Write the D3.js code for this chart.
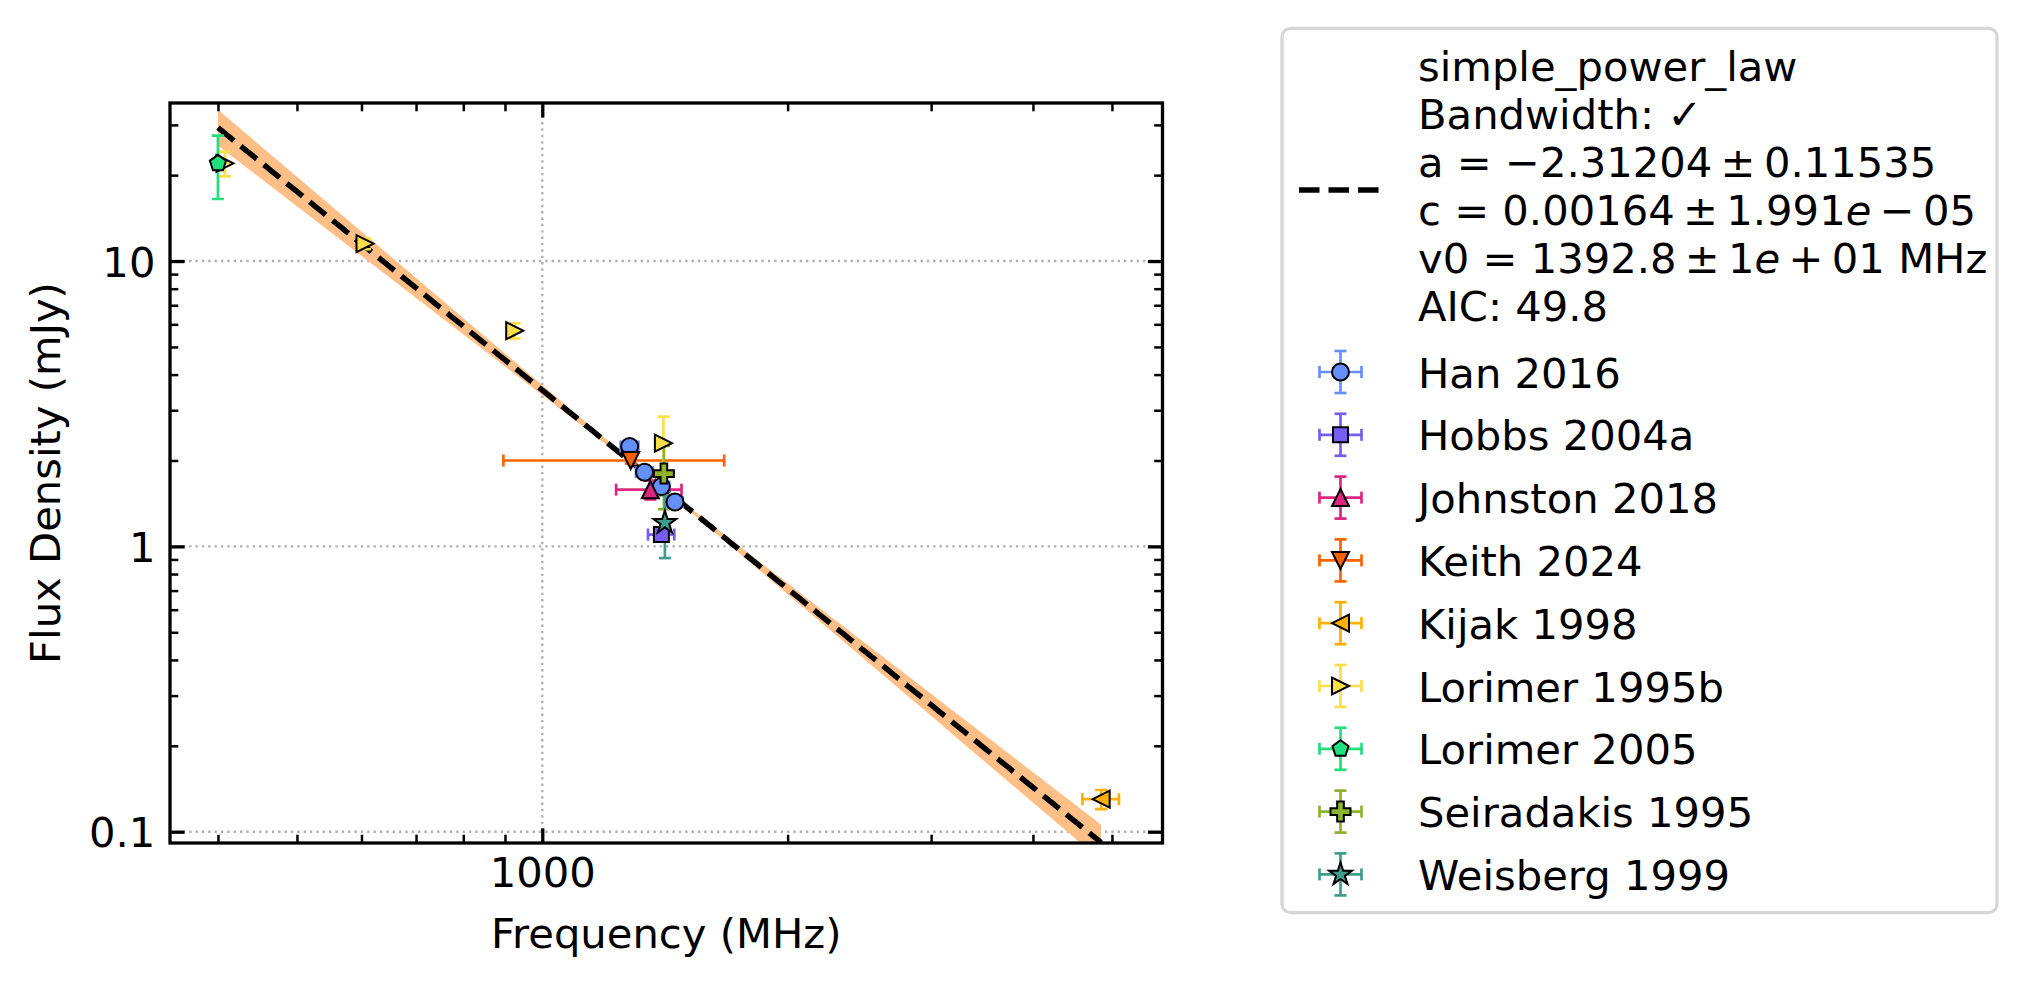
<!DOCTYPE html>
<html lang="en">
  <head>
    <meta charset="UTF-8" />
    <title>Flux density spectrum</title>
    <script src="https://cdn.jsdelivr.net/npm/d3@7"></script>
    <style>
      body { margin: 0; background: #fff; }
      text { font-family: "DejaVu Sans", sans-serif; }
    </style>
  </head>
  <body>
    <div id="wrapper"></div>
    <script>
      // each point: [freq (MHz), freq err, flux (mJy), flux err]
      const han2016 = [[1280, 32, 2.24, 0.05], [1335, 32, 1.82, 0.05], [1400, 32, 1.62, 0.05], [1455, 32, 1.43, 0.05]]
      const hobbs2004a = [[1400, 52, 1.1, 0.03]]
      const johnston2018 = [[1357, 125, 1.58, 0.12]]
      const keith2024 = [[1284, 388, 2.0, 0.05]]
      const kijak1998 = [[4850, 250, 0.13, 0.01]]
      const lorimer1995b = [[408, 0, 22.0, 2.2], [606, 0, 11.5, 0.5], [925, 0, 5.7, 0.35], [1408, 0, 2.3, 0.55]]
      const lorimer2005 = [[400, 0, 22.0, 5.5]]
      const seiradakis1995 = [[1410, 0, 1.8, 0.45]]
      const weisberg1999 = [[1414, 0, 1.21, 0.3]]

      const surveyNames = ['Han 2016', 'Hobbs 2004a', 'Johnston 2018', 'Keith 2024', 'Kijak 1998',
        'Lorimer 1995b', 'Lorimer 2005', 'Seiradakis 1995', 'Weisberg 1999']
      const surveyData = [han2016, hobbs2004a, johnston2018, keith2024, kijak1998,
        lorimer1995b, lorimer2005, seiradakis1995, weisberg1999]

      // fit result
      const fitName = 'simple_power_law'
      const fitA = -2.31204
      const fitAErr = 0.11535
      const fitC = 0.00164
      const fitCErr = 1.991e-5
      const fitV0 = 1392.8
      const fitV0Err = 10
      const fitAIC = 49.8

      const xMajor = [1000]
      const xMinor = [400, 500, 600, 700, 800, 900, 2000, 3000, 4000, 5000]
      const yMajor = [0.1, 1, 10]
      const yMinor = [0.2, 0.3, 0.4, 0.5, 0.6, 0.7, 0.8, 0.9, 2, 3, 4, 5, 6, 7, 8, 9, 20, 30]

      // styles
      const colors = ['#648fff', '#785ef0', '#dc267f', '#fe6100', '#ffb000', '#fadf4a', '#20df7c', '#8db22c', '#3e9c8c']
      const shapes = ['o', 's', '^', 'v', '<', '>', 'p', 'P', '*']
      const shapeSize = { o: 17, s: 15, '^': 17, v: 17, '<': 17, '>': 17, p: 17, P: 20, '*': 24 }

      const fs = 41.7
      const dms = {
        width: 2027,
        height: 987,
        left: 170,
        right: 1162.5,
        top: 103,
        bottom: 843
      }

      const svg = d3.select('#wrapper').append('svg')
        .attr('width', dms.width)
        .attr('height', dms.height)
      svg.append('rect').attr('width', dms.width).attr('height', dms.height).attr('fill', '#fff')

      const xScale = d3.scaleLog().domain([349.3, 5768]).range([dms.left, dms.right])
      const yScale = d3.scaleLog().domain([0.0913, 35.8]).range([dms.bottom, dms.top])

      svg.append('clipPath').attr('id', 'clip')
        .append('rect')
        .attr('x', dms.left).attr('y', dms.top)
        .attr('width', dms.right - dms.left).attr('height', dms.bottom - dms.top)

      // grid
      const grid = svg.append('g')
        .attr('stroke', '#b0b0b0').attr('stroke-width', 2.4).attr('stroke-dasharray', '2.4 3.96')
      grid.selectAll('.gx').data(xMajor).join('line')
        .attr('x1', d => xScale(d)).attr('x2', d => xScale(d))
        .attr('y1', dms.top).attr('y2', dms.bottom)
      grid.selectAll('.gy').data(yMajor).join('line')
        .attr('class', 'gy')
        .attr('y1', d => yScale(d)).attr('y2', d => yScale(d))
        .attr('x1', dms.left).attr('x2', dms.right)

      // fit and its uncertainty band
      const allFreq = surveyData.flat().map(d => d[0])
      const fMin = d3.min(allFreq)
      const fMax = d3.max(allFreq)
      const model = v => fitC * 1000 * Math.pow(v / fitV0, fitA)
      const sigma = v => Math.hypot(fitAErr * Math.log(v / fitV0), fitCErr / fitC)
      const freqGrid = d3.range(0, 201).map(i => fMin * Math.pow(fMax / fMin, i / 200))

      const plot = svg.append('g').attr('clip-path', 'url(#clip)')
      plot.append('path')
        .attr('d', d3.area()
          .x(v => xScale(v))
          .y0(v => yScale(model(v) * Math.exp(-sigma(v))))
          .y1(v => yScale(model(v) * Math.exp(sigma(v))))(freqGrid))
        .attr('fill', '#ffbf87')
      plot.append('path')
        .attr('d', d3.line().x(v => xScale(v)).y(v => yScale(model(v)))(freqGrid))
        .attr('fill', 'none')
        .attr('stroke', '#000')
        .attr('stroke-width', 5.5)
        .attr('stroke-dasharray', '20.5 9')

      function markerPath(shape, s) {
        const p = d3.path()
        const h = s / 2
        const poly = pts => {
          pts.forEach(([x, y], i) => i ? p.lineTo(x, y) : p.moveTo(x, y))
          p.closePath()
        }
        const tri = rot => {
          const base = [[0, -h], [-h, h], [h, h]]
          const r = rot * Math.PI / 180
          poly(base.map(([x, y]) => [x * Math.cos(r) - y * Math.sin(r), x * Math.sin(r) + y * Math.cos(r)]))
        }
        if (shape === 'o') { p.arc(0, 0, h, 0, 2 * Math.PI); p.closePath() }
        else if (shape === 's') poly([[-h, -h], [h, -h], [h, h], [-h, h]])
        else if (shape === '^') tri(0)
        else if (shape === 'v') tri(180)
        else if (shape === '<') tri(-90)
        else if (shape === '>') tri(90)
        else if (shape === 'p') poly(d3.range(5).map(k => {
          const a = (-90 + k * 72) * Math.PI / 180
          return [h * Math.cos(a), h * Math.sin(a)]
        }))
        else if (shape === 'P') {
          const u = s / 6
          poly([[-u, -3 * u], [u, -3 * u], [u, -u], [3 * u, -u], [3 * u, u], [u, u], [u, 3 * u],
            [-u, 3 * u], [-u, u], [-3 * u, u], [-3 * u, -u], [-u, -u]])
        }
        else if (shape === '*') poly(d3.range(10).map(k => {
          const a = (-90 + k * 36) * Math.PI / 180
          const r = k % 2 ? h * 0.381966 : h
          return [r * Math.cos(a), r * Math.sin(a)]
        }))
        return p.toString()
      }

      const cap = 6
      const errW = 2.7
      function drawErr(g, x0, x1, y0, y1, cx, cy, color) {
        const segs = []
        if (x1 > x0) {
          segs.push([x0, cy, x1, cy], [x0, cy - cap, x0, cy + cap], [x1, cy - cap, x1, cy + cap])
        }
        if (y1 > y0) {
          segs.push([cx, y0, cx, y1], [cx - cap, y0, cx + cap, y0], [cx - cap, y1, cx + cap, y1])
        }
        g.selectAll(null).data(segs).join('line')
          .attr('x1', d => d[0]).attr('y1', d => d[1])
          .attr('x2', d => d[2]).attr('y2', d => d[3])
          .attr('stroke', color).attr('stroke-width', errW)
      }

      // error bars below, markers on top
      const errG = plot.append('g')
      surveyData.forEach((pts, i) => {
        pts.forEach(d => {
          drawErr(errG,
            d[1] ? xScale(d[0] - d[1]) : 0, d[1] ? xScale(d[0] + d[1]) : 0,
            d[3] ? yScale(d[2] + d[3]) : 0, d[3] ? yScale(d[2] - d[3]) : 0,
            xScale(d[0]), yScale(d[2]), colors[i])
        })
      })
      const markG = plot.append('g')
      surveyData.forEach((pts, i) => {
        markG.selectAll(null).data(pts).join('path')
          .attr('transform', d => `translate(${xScale(d[0])},${yScale(d[2])})`)
          .attr('d', markerPath(shapes[i], shapeSize[shapes[i]]))
          .attr('fill', colors[i])
          .attr('stroke', '#000')
          .attr('stroke-width', 2)
      })

      // axes: ticks pointing in on all four sides
      function styleAxis(g, width) {
        g.select('.domain').remove()
        g.selectAll('.tick line').attr('stroke', '#000').attr('stroke-width', width)
        g.selectAll('.tick text').attr('font-size', fs).attr('fill', '#000')
          .attr('font-family', '"DejaVu Sans", sans-serif')
      }
      const fmt = d3.format('~g')
      svg.append('g').attr('transform', `translate(0,${dms.bottom})`)
        .call(d3.axisBottom(xScale).tickValues(xMajor).tickFormat(fmt).tickSize(-14.6).tickPadding(14.6))
        .call(g => styleAxis(g, 3.3))
      svg.append('g').attr('transform', `translate(0,${dms.bottom})`)
        .call(d3.axisBottom(xScale).tickValues(xMinor).tickFormat('').tickSize(-8.3))
        .call(g => styleAxis(g, 2.5))
      svg.append('g').attr('transform', `translate(0,${dms.top})`)
        .call(d3.axisTop(xScale).tickValues(xMajor).tickFormat('').tickSize(-14.6))
        .call(g => styleAxis(g, 3.3))
      svg.append('g').attr('transform', `translate(0,${dms.top})`)
        .call(d3.axisTop(xScale).tickValues(xMinor).tickFormat('').tickSize(-8.3))
        .call(g => styleAxis(g, 2.5))
      svg.append('g').attr('transform', `translate(${dms.left},0)`)
        .call(d3.axisLeft(yScale).tickValues(yMajor).tickFormat(fmt).tickSize(-14.6).tickPadding(14.6))
        .call(g => styleAxis(g, 3.3))
        .call(g => g.selectAll('.tick text').attr('dy', '0.36em'))
      svg.append('g').attr('transform', `translate(${dms.left},0)`)
        .call(d3.axisLeft(yScale).tickValues(yMinor).tickFormat('').tickSize(-8.3))
        .call(g => styleAxis(g, 2.5))
      svg.append('g').attr('transform', `translate(${dms.right},0)`)
        .call(d3.axisRight(yScale).tickValues(yMajor).tickFormat('').tickSize(-14.6))
        .call(g => styleAxis(g, 3.3))
      svg.append('g').attr('transform', `translate(${dms.right},0)`)
        .call(d3.axisRight(yScale).tickValues(yMinor).tickFormat('').tickSize(-8.3))
        .call(g => styleAxis(g, 2.5))

      svg.append('rect')
        .attr('x', dms.left).attr('y', dms.top)
        .attr('width', dms.right - dms.left).attr('height', dms.bottom - dms.top)
        .attr('fill', 'none').attr('stroke', '#000').attr('stroke-width', 3.3)

      svg.append('text')
        .attr('x', (dms.left + dms.right) / 2).attr('y', 948)
        .attr('text-anchor', 'middle').attr('font-size', fs)
        .text('Frequency (MHz)')
      svg.append('text')
        .attr('transform', `translate(60,${(dms.top + dms.bottom) / 2}) rotate(-90)`)
        .attr('text-anchor', 'middle').attr('font-size', fs)
        .text('Flux Density (mJy)')

      // legend
      const leg = svg.append('g')
      leg.append('rect')
        .attr('x', 1282).attr('y', 28.4).attr('width', 715).attr('height', 884.2)
        .attr('rx', 8.3).attr('ry', 8.3)
        .attr('fill', '#fff').attr('fill-opacity', 0.8)
        .attr('stroke', '#d6d6d6').attr('stroke-width', 3.3)

      const minus = s => s.replace('-', '\u2212')
      const ts = '\u2009'
      const expParts = v => {
        const [m, e] = v.toExponential(v < 1 ? 3 : 0).split('e')
        const sign = e[0] === '-' ? '\u2212' : '+'
        const pow = e.slice(1).padStart(2, '0')
        return [m, sign, pow]
      }
      const cErr = expParts(fitCErr)
      const vErr = expParts(fitV0Err)
      const fitLines = [
        [[fitName]],
        [['Bandwidth: \u2713']],
        [[`a = ${minus(fitA.toFixed(5))}${ts}\u00b1${ts}${fitAErr.toFixed(5)}`]],
        [[`c = ${fitC.toFixed(5)}${ts}\u00b1${ts}${cErr[0]}`], ['e', true], [`${ts}${cErr[1]}${ts}${cErr[2]}`]],
        [[`v0 = ${fitV0}${ts}\u00b1${ts}${vErr[0]}`], ['e', true], [`${ts}${vErr[1]}${ts}${vErr[2]} MHz`]],
        [[`AIC: ${fitAIC}`]]
      ]
      const textX = 1418
      fitLines.forEach((parts, i) => {
        const t = leg.append('text').attr('x', textX).attr('y', 81 + 48 * i).attr('font-size', fs)
        parts.forEach(p => {
          t.append('tspan').attr('font-style', p[1] ? 'italic' : null).text(p[0])
        })
      })
      leg.append('line')
        .attr('x1', 1299).attr('x2', 1382).attr('y1', 190).attr('y2', 190)
        .attr('stroke', '#000').attr('stroke-width', 5.5).attr('stroke-dasharray', '20.5 9')

      const hx = 1340.5
      const arm = 21
      surveyNames.forEach((name, i) => {
        const cy = 372 + 62.8 * i
        drawErr(leg, hx - arm, hx + arm, cy - arm, cy + arm, hx, cy, colors[i])
        leg.append('path')
          .attr('transform', `translate(${hx},${cy})`)
          .attr('d', markerPath(shapes[i], shapeSize[shapes[i]]))
          .attr('fill', colors[i]).attr('stroke', '#000').attr('stroke-width', 2)
        leg.append('text').attr('x', textX).attr('y', cy + 15.5).attr('font-size', fs).text(name)
      })
    </script>
  </body>
</html>
